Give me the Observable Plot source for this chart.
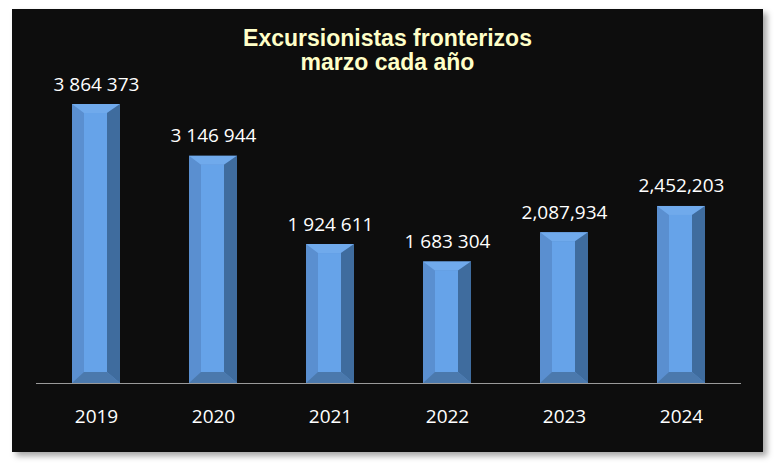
<!DOCTYPE html>
<html>
<head>
<meta charset="utf-8">
<script src="https://cdn.jsdelivr.net/npm/d3@7"></script>
<script src="https://cdn.jsdelivr.net/npm/@observablehq/plot@0.6"></script>
<style>
  html, body { margin: 0; padding: 0; background: #ffffff; }
  #wrap { position: relative; width: 775px; height: 467px; overflow: hidden; }
  #frame { position: absolute; left: 12px; top: 9px; width: 751px; height: 443px; background: #0d0d0d;
           box-shadow: 4px 4px 6px rgba(0,0,0,0.35); }
  #chart { position: absolute; left: 0; top: 0; }
  #title { position: absolute; left: 0; width: 775px; top: 26px; text-align: center;
           font-family: "Liberation Sans", Arial, sans-serif; font-weight: bold; font-size: 23px;
           line-height: 24px; color: #ffffc8; }
</style>
</head>
<body>
<div id="wrap">
  <div id="frame"></div>
  <div id="chart"></div>
  <div id="title">Excursionistas fronterizos<br>marzo cada año</div>
</div>
<script>
const years = ["2019", "2020", "2021", "2022", "2023", "2024"];
const values = [3864373, 3146944, 1924611, 1683304, 2087934, 2452203];
const valueLabels = ["3 864 373", "3 146 944", "1 924 611", "1 683 304", "2,087,934", "2,452,203"];

const data = years.map((year, i) => ({year, value: values[i], label: valueLabels[i]}));

const bevel = {l: 12, r: 13, t: 9, b: 11};
const colors = {left: "#5a8fd0", top: "#70aaec", right: "#3f6c9e", bottom: "#4b79ad", front: "#66a3e9"};

const plot = Plot.plot({
  width: 775,
  height: 467,
  marginLeft: 36,
  marginRight: 34,
  marginTop: 104,
  marginBottom: 84,
  style: {background: "transparent", color: "#ffffff", fontFamily: "'Open Sans', sans-serif"},
  x: {type: "band", domain: years, paddingInner: 0.59, paddingOuter: 0.295, label: null},
  y: {domain: [0, d3.max(values)], axis: null},
  marks: [
    Plot.barY(data, {x: "year", y: "value", fill: colors.left}),
    Plot.barY(data, {x: "year", y: "value", fill: colors.front,
      insetLeft: bevel.l, insetRight: bevel.r, insetTop: bevel.t, insetBottom: bevel.b}),
    Plot.ruleY([0], {stroke: "#9a9a9a", strokeWidth: 1}),
    Plot.axisX({tickSize: 0, tickPadding: 26, fontSize: 19, fill: "#ffffff", label: null}),
    Plot.text(data, {x: "year", y: "value", text: "label", fill: "#ffffff", fontSize: 19,
      lineAnchor: "bottom", dy: -14})
  ]
});

// add bevel faces (top, right, bottom) from the bars Plot positioned
const svg = d3.select(plot);
const barGroups = svg.selectAll('g[aria-label="bar"]').nodes();
if (barGroups.length >= 2) {
  const outer = d3.select(barGroups[0]);
  const faces = d3.create("svg:g").attr("aria-label", "bevel");
  outer.selectAll("rect").each(function() {
    const r = d3.select(this);
    const x = +r.attr("x"), y = +r.attr("y"), w = +r.attr("width"), h = +r.attr("height");
    const {l, t, b} = bevel, rr = bevel.r;
    const pts = (arr) => arr.map(p => p.join(",")).join(" ");
    faces.append("polygon").attr("fill", colors.top)
      .attr("points", pts([[x, y], [x + w, y], [x + w - rr, y + t], [x + l, y + t]]));
    faces.append("polygon").attr("fill", colors.right)
      .attr("points", pts([[x + w, y], [x + w, y + h], [x + w - rr, y + h - b], [x + w - rr, y + t]]));
    faces.append("polygon").attr("fill", colors.bottom)
      .attr("points", pts([[x, y + h], [x + w, y + h], [x + w - rr, y + h - b], [x + l, y + h - b]]));
  });
  barGroups[1].parentNode.insertBefore(faces.node(), barGroups[1]);
}

document.getElementById("chart").appendChild(plot);
</script>
</body>
</html>
